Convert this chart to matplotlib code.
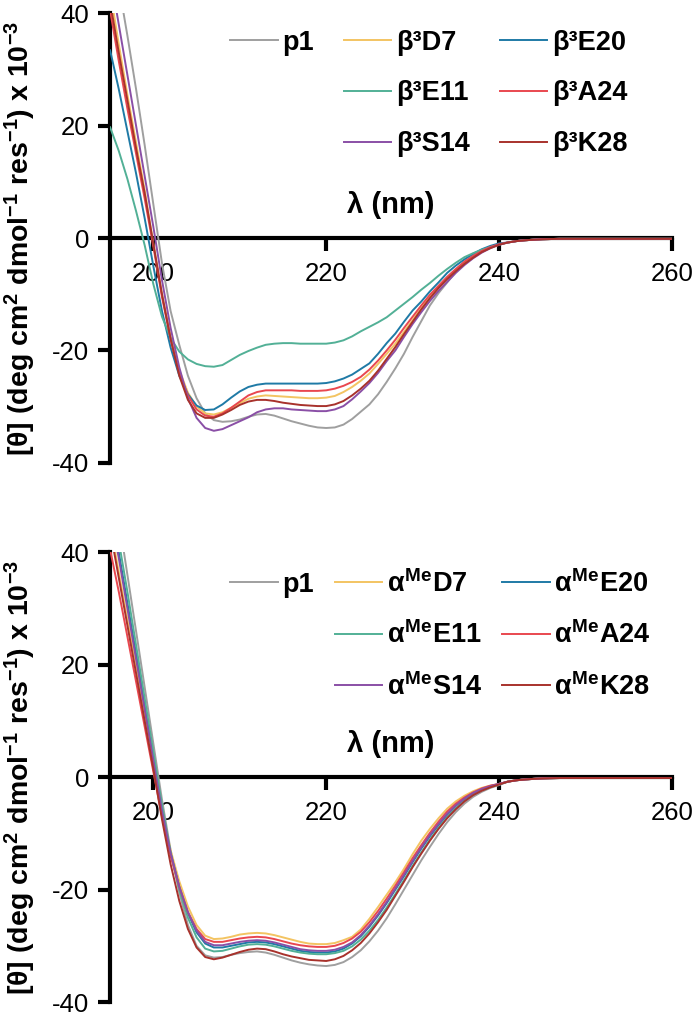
import matplotlib
matplotlib.use("Agg")
import matplotlib.pyplot as plt
from matplotlib.lines import Line2D
import numpy as np

plt.rcParams['font.family'] = ['Liberation Sans', 'DejaVu Sans']
plt.rcParams['mathtext.fontset'] = 'custom'
plt.rcParams['mathtext.rm'] = 'Liberation Sans:bold'
plt.rcParams['mathtext.it'] = 'Liberation Sans:bold'
plt.rcParams['mathtext.bf'] = 'Liberation Sans:bold'
plt.rcParams['mathtext.sf'] = 'Liberation Sans:bold'
plt.rcParams['axes.unicode_minus'] = False

# wavelength (nm), 1 nm steps 195..260
wl = np.arange(195, 261)

# shared flat tail, 241..260 nm
tail = [-0.8, -0.55, -0.4, -0.3, -0.22, -0.18, -0.15, -0.15, -0.15, -0.15,
        -0.15, -0.15, -0.15, -0.15, -0.15, -0.15, -0.15, -0.15, -0.15, -0.15]

# ---- top panel: beta3 substitutions (195..240 nm)
b_p1 = [54, 45, 36, 26.5, 16.5, 6, -4.5, -13, -19, -24.5,
        -28.5, -31.2, -32.4, -32.7, -32.6, -32.3, -31.8, -31.4, -31.3, -31.6,
        -32.1, -32.6, -33.0, -33.4, -33.7, -33.8, -33.7, -33.2, -32.2, -30.9,
        -29.6, -27.8, -25.6, -23.2, -20.6, -17.6, -14.8, -12.0, -9.8, -7.9,
        -6.0, -4.3, -3.1, -2.3, -1.6, -1.1]
b_D7 = [44, 34.5, 25.5, 17, 8.5, -1, -10, -17.5, -23.5, -27.5,
        -30, -31.2, -31.4, -31.0, -30.2, -29.4, -28.6, -28.2, -28.0, -28.1,
        -28.2, -28.3, -28.4, -28.5, -28.5, -28.4, -28.1, -27.4, -26.5, -25.4,
        -24.1, -22.4, -20.6, -18.8, -16.7, -14.6, -12.5, -10.5, -8.7, -7.1,
        -5.7, -4.4, -3.3, -2.4, -1.7, -1.1]
b_E20 = [33.4, 26.5, 19, 11.5, 3.5, -5, -13, -19.5, -24.5, -27.8,
         -29.8, -30.6, -30.5, -29.6, -28.4, -27.3, -26.5, -26.1, -25.9, -25.9,
         -25.9, -25.9, -25.9, -25.9, -25.9, -25.8, -25.5, -25.0, -24.3, -23.3,
         -22.3, -20.6, -18.7, -17.0, -14.9, -12.9, -11.3, -9.5, -7.9, -6.2,
         -4.9, -3.8, -2.8, -2.0, -1.4, -0.95]
b_E11 = [19.7, 15.5, 10.5, 4.8, -1.3, -8.2, -14, -17.8, -20.2, -21.6,
         -22.4, -22.8, -22.9, -22.6, -21.7, -20.8, -20.1, -19.5, -19.0, -18.8,
         -18.7, -18.7, -18.8, -18.8, -18.8, -18.8, -18.6, -18.2, -17.5, -16.6,
         -15.8, -15.0, -14.1, -12.9, -11.7, -10.5, -9.2, -8.0, -6.7, -5.5,
         -4.4, -3.4, -2.7, -2.1, -1.6, -1.2]
b_A24 = [40.5, 31.5, 23, 15, 7, -1.5, -10.5, -18, -24, -28,
         -30.5, -31.6, -31.8, -31.2, -30.2, -29.1, -28.0, -27.4, -27.1, -27.1,
         -27.1, -27.1, -27.2, -27.2, -27.2, -27.1, -26.8, -26.3, -25.6, -24.7,
         -23.4, -21.8, -20.0, -18.1, -16.0, -14.0, -12.0, -10.1, -8.5, -6.9,
         -5.5, -4.2, -3.2, -2.3, -1.6, -1.1]
b_S14 = [47, 38, 29, 20, 11, 2, -7.5, -16, -23, -28.5,
         -32, -33.8, -34.3, -34.0, -33.3, -32.6, -31.9, -31.0, -30.5, -30.3,
         -30.3, -30.5, -30.6, -30.7, -30.8, -30.8, -30.5, -29.9, -28.7, -27.3,
         -25.8, -24.0, -21.9, -20.0, -17.6, -15.3, -13.2, -11.2, -9.4, -7.8,
         -6.2, -4.8, -3.6, -2.6, -1.8, -1.2]
b_K28 = [42, 33, 24.5, 16, 8, -1, -10, -18, -24.5, -28.8,
         -31.2, -32.0, -32.0, -31.4, -30.6, -29.7, -29.1, -28.8, -28.8, -29.0,
         -29.3, -29.5, -29.7, -29.8, -29.9, -29.9, -29.6, -29.0, -28.0, -26.8,
         -25.4, -23.6, -21.5, -19.4, -17.1, -14.9, -12.7, -10.7, -8.9, -7.3,
         -5.9, -4.6, -3.5, -2.5, -1.8, -1.2]

# ---- bottom panel: alpha-methyl substitutions (195..240 nm)
a_p1 = [54, 46, 36, 26, 16, 6, -4, -13, -20.5, -26.3,
        -30.0, -31.7, -32.1, -32.0, -31.6, -31.3, -31.1, -31.0, -31.2, -31.6,
        -32.1, -32.6, -33.0, -33.3, -33.5, -33.6, -33.4, -32.9, -32.0, -30.8,
        -29.2, -27.3, -25.1, -22.6, -20.0, -17.4, -14.8, -12.4, -10.1, -8.0,
        -6.2, -4.7, -3.5, -2.6, -1.9, -1.4]
a_D7 = [45, 36.5, 28, 19.5, 11, 2.5, -6, -13, -18.5, -23,
        -26.3, -28.2, -28.8, -28.7, -28.4, -28.0, -27.8, -27.7, -27.8, -28.1,
        -28.5, -28.9, -29.3, -29.6, -29.7, -29.7, -29.5, -29.0, -28.4, -27.1,
        -25.2, -23.1, -20.9, -18.7, -16.3, -13.7, -11.3, -9.2, -7.3, -5.6,
        -4.3, -3.3, -2.5, -1.9, -1.5, -1.2]
a_E20 = [48, 40, 31, 22, 13, 3.5, -5.5, -13.5, -19.5, -24.2,
         -27.6, -29.6, -30.3, -30.3, -30.0, -29.7, -29.4, -29.3, -29.4, -29.7,
         -30.1, -30.5, -30.9, -31.1, -31.2, -31.2, -31.0, -30.5, -29.6, -28.3,
         -26.6, -24.6, -22.4, -20.0, -17.6, -15.1, -12.7, -10.5, -8.5, -6.7,
         -5.1, -3.9, -2.9, -2.2, -1.6, -1.2]
a_E11 = [50, 42, 33, 23.5, 14, 4.5, -5, -13.5, -20, -25,
         -28.5, -30.5, -31.0, -30.9, -30.5, -30.1, -29.8, -29.7, -29.8, -30.1,
         -30.5, -30.9, -31.2, -31.4, -31.5, -31.5, -31.3, -30.9, -30.1, -28.9,
         -27.3, -25.4, -23.2, -20.8, -18.3, -15.8, -13.4, -11.1, -9.0, -7.1,
         -5.5, -4.2, -3.1, -2.3, -1.7, -1.3]
a_A24 = [40.5, 33, 25, 17, 9, 1, -7, -14, -19.5, -24,
         -27, -28.8, -29.3, -29.3, -29.0, -28.7, -28.5, -28.4, -28.5, -28.8,
         -29.2, -29.6, -29.9, -30.1, -30.2, -30.2, -30.0, -29.5, -28.7, -27.5,
         -25.8, -23.8, -21.6, -19.3, -16.9, -14.4, -12.1, -9.9, -7.9, -6.1,
         -4.7, -3.6, -2.7, -2.0, -1.5, -1.2]
a_S14 = [47, 39, 30, 21, 12, 3, -6, -13.5, -19.5, -24,
         -27.3, -29.3, -29.9, -29.9, -29.6, -29.3, -29.1, -29.0, -29.1, -29.4,
         -29.8, -30.2, -30.6, -30.8, -30.9, -30.9, -30.7, -30.2, -29.4, -28.1,
         -26.4, -24.4, -22.2, -19.8, -17.4, -14.9, -12.5, -10.3, -8.3, -6.5,
         -5.0, -3.8, -2.8, -2.1, -1.6, -1.2]
a_K28 = [44, 35.5, 27, 18.5, 10, 1.5, -7.5, -15.5, -22, -27,
         -30.3, -32.0, -32.4, -32.1, -31.6, -31.1, -30.7, -30.5, -30.6, -31.0,
         -31.5, -31.9, -32.2, -32.5, -32.6, -32.7, -32.4, -31.8, -30.8, -29.5,
         -27.8, -25.8, -23.6, -21.1, -18.6, -16.0, -13.6, -11.3, -9.2, -7.3,
         -5.7, -4.3, -3.2, -2.4, -1.8, -1.3]

names = ['p1', 'D7', 'E20', 'E11', 'A24', 'S14', 'K28']
colors = ['#9f9f9f', '#f3c462', '#1f7aa6', '#52b096', '#e9474f', '#8a4fa6', '#a8322c']
top_series = [b_p1, b_D7, b_E20, b_E11, b_A24, b_S14, b_K28]
bot_series = [a_p1, a_D7, a_E20, a_E11, a_A24, a_S14, a_K28]
top_prefix = 'β³'
bot_prefix = r'$\alpha^{Me}$'

fig = plt.figure(figsize=(6.97, 10.15), dpi=100)
ax_top = fig.add_axes([0.158, 0.544, 0.806, 0.443])
ax_bot = fig.add_axes([0.158, 0.0128, 0.806, 0.443])


def draw_panel(ax, series, prefix, leg_y, leg_space, col_space):
    lines = {}
    for name, col, vals in zip(names, colors, series):
        label = name if name == 'p1' else prefix + name
        ln, = ax.plot(wl, list(vals) + tail, color=col, lw=1.4, zorder=3,
                      label=label)
        lines[name] = ln
    ax.set_xlim(195, 260)
    ax.set_ylim(-40, 40)
    ax.set_xticks([200, 220, 240, 260])
    ax.set_yticks([-40, -20, 0, 20, 40])
    ax.spines['top'].set_visible(False)
    ax.spines['right'].set_visible(False)
    ax.spines['bottom'].set_position(('data', 0))
    for s in ['left', 'bottom']:
        ax.spines[s].set_linewidth(3)
    ax.set_axisbelow(True)
    ax.tick_params(axis='both', direction='out', length=9, width=3,
                   labelsize=18.5)
    ax.tick_params(axis='x', pad=8)
    ax.tick_params(axis='y', pad=6)

    ax.set_xlabel('λ (nm)', fontsize=21, fontweight='bold', va='top')
    ax.xaxis.set_label_coords(0.5, 0.605)
    ax.set_ylabel(r'[θ] (deg cm$^{2}$ dmol$^{-1}$ res$^{-1}$) x 10$^{-3}$',
                  fontsize=20.5, fontweight='bold')
    ax.yaxis.set_label_coords(-0.128, 0.5)

    blank = Line2D([], [], color='none')
    order = [lines['p1'], blank, blank,
             lines['D7'], lines['E11'], lines['S14'],
             lines['E20'], lines['A24'], lines['K28']]
    labels = [h.get_label() if h is not blank else '' for h in order]
    ax.legend(order, labels, ncol=3, loc='upper left',
              bbox_to_anchor=(0.214, leg_y), frameon=False,
              prop={'size': 19.5, 'weight': 'bold'},
              handlelength=1.75, handletextpad=0.18, columnspacing=col_space,
              labelspacing=leg_space, borderpad=0, borderaxespad=0)


draw_panel(ax_top, top_series, top_prefix, 0.963, 0.91, 1.1)
draw_panel(ax_bot, bot_series, bot_prefix, 0.961, 0.88, 0.75)

fig.savefig('out.png', dpi=100)
